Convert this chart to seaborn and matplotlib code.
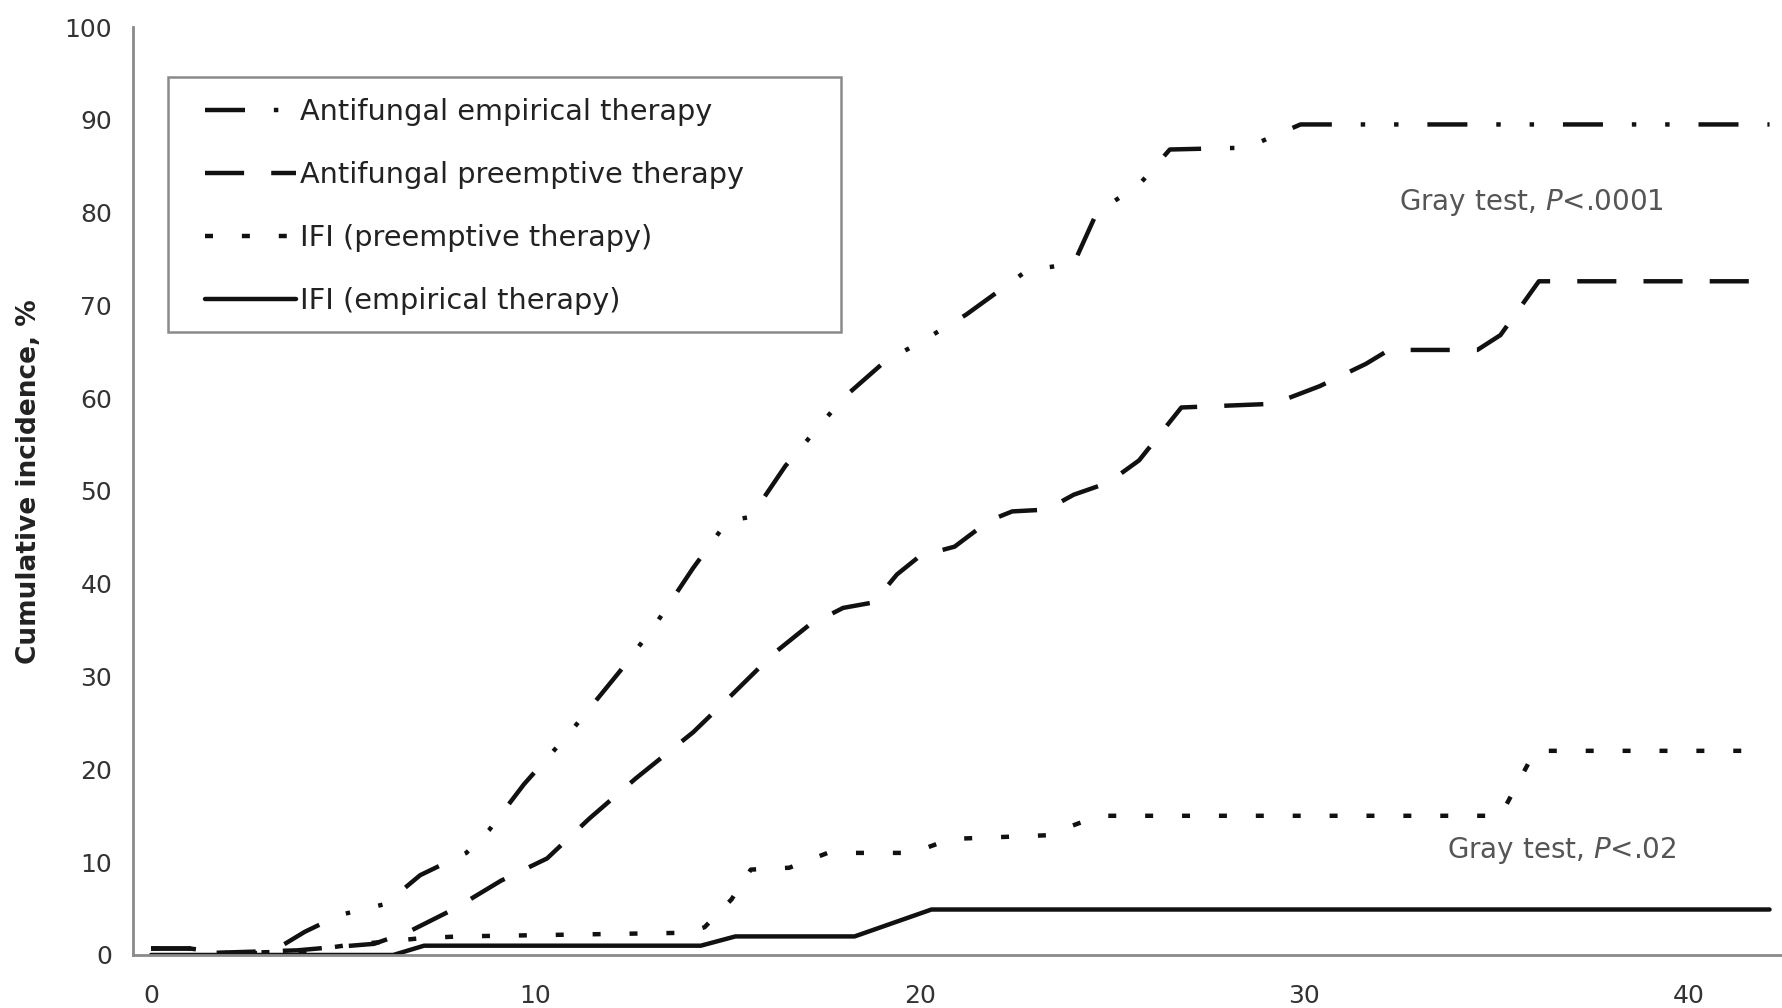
import numpy as np
import pandas as pd
import seaborn as sns
import matplotlib.pyplot as plt
from matplotlib.patches import Rectangle

# 数据
emp_x = [0, 1.0, 1.4, 2.8, 3.4, 4.0, 4.9, 6.1, 7.0, 8.2, 8.8, 9.7, 10.9, 12.2, 13.1, 14.1, 15.0, 15.6,
         16.5, 18.0, 19.1, 20.0, 21.2, 22.8, 24.0, 24.6, 25.7, 26.5, 28.5, 29.9, 42.1]
emp_y = [0.7, 0.7, 0.2, 0.2, 1.0, 2.5, 4.3, 5.5, 8.6, 11, 13.5, 18.4, 24, 30.6, 35.5, 41.7, 46.8, 47.2,
         52.7, 60, 64, 66, 69, 73.8, 74.5, 80, 83, 86.8, 87, 89.5, 89.5]

pre_x = [0, 1.0, 1.4, 3.8, 4.9, 5.8, 6.7, 7.9, 9.1, 10.3, 11.4, 12.6, 14.1, 15.0, 16.2, 17.1, 18.0, 18.8,
         19.4, 20.0, 20.9, 21.8, 22.4, 23.3, 24.0, 24.9, 25.7, 26.8, 29.2, 30.4, 31.6, 32.2, 34.5, 35.1,
         36.1, 42.1]
pre_y = [0.7, 0.7, 0.2, 0.5, 0.9, 1.2, 2.5, 5, 8, 10.4, 14.7, 19, 24, 27.6, 32.5, 35.5, 37.4, 38,
         41, 43, 44, 46.8, 47.8, 48, 49.6, 50.9, 53.3, 59, 59.4, 61.3, 63.7, 65.2, 65.2, 66.8,
         72.6, 72.6]

ifi_pre_x = [0, 1.0, 2.0, 4.0, 5.0, 7.0, 8.0, 14.0, 14.4, 15.1, 15.6, 16.6, 17.6, 19.8, 20.8, 23.3,
             24.2, 24.7, 35.1, 36.0, 42.1]
ifi_pre_y = [0.7, 0.7, 0.2, 0.4, 1.0, 1.8, 2.0, 2.4, 3.0, 6, 9.2, 9.4, 11, 11, 12.5, 12.9,
             14.3, 15, 15, 22, 22]

ifi_emp_x = [0, 6.3, 7.1, 14.3, 15.2, 18.3, 20.3, 42.1]
ifi_emp_y = [0, 0, 1, 1, 2, 2, 4.9, 4.9]

labels = ['Antifungal empirical therapy', 'Antifungal preemptive therapy',
          'IFI (preemptive therapy)', 'IFI (empirical therapy)']

# 设置图形风格
sns.set_style("white")
plt.rcParams['font.family'] = ['DejaVu Sans']
plt.rcParams['mathtext.fontset'] = 'dejavusans'

W, H = 1783, 1008
fig = plt.figure(figsize=(W / 100, H / 100), dpi=100)
ax = fig.add_axes([0.0746, 0.0526, 0.9254, 0.9206])

ink = '#111111'
lw = 3.2
series = [
    (emp_x, emp_y, (0, (9, 6.5, 1, 6.5, 1, 6.5))),
    (pre_x, pre_y, (0, (8.8, 6.1))),
    (ifi_pre_x, ifi_pre_y, (0, (1.8, 6.5))),
    (ifi_emp_x, ifi_emp_y, '-'),
]
for (xs, ys, ls), lab in zip(series, labels):
    df = pd.DataFrame({'day': xs, 'inc': ys})
    sns.lineplot(x='day', y='inc', data=df, ax=ax, color=ink, linewidth=lw,
                 linestyle=ls, estimator=None, label=lab)

ax.set_xlim(-0.47, 42.45)
ax.set_ylim(0, 100)

# 坐标轴
for side in ['top', 'right']:
    ax.spines[side].set_visible(False)
for side in ['left', 'bottom']:
    ax.spines[side].set_color('#8a8a8a')
    ax.spines[side].set_linewidth(2)

ax.set_yticks(np.arange(0, 101, 10))
ax.tick_params(axis='y', length=5, width=1.5, color='#8a8a8a', direction='out',
               labelsize=18, labelcolor='#333333', pad=10)
ax.set_xticks([0, 10, 20, 30, 40])
ax.set_xticks(np.arange(4.5, 43, 5), minor=True)
ax.tick_params(axis='x', which='major', length=0, labelsize=18, labelcolor='#333333', pad=21)
ax.tick_params(axis='x', which='minor', length=9, width=1.5, color='#8a8a8a', direction='inout')

ax.set_xlabel('')
ax.set_ylabel('Cumulative incidence, %', fontsize=19, fontweight='bold', color='#222222')
ax.yaxis.set_label_coords(-0.055, 0.51)

# 注释
ax.text(35.9, 81.1, 'Gray test, $\\mathit{P}$<.0001', fontsize=20, color='#555555',
        ha='center', va='center')
ax.text(36.7, 11.3, 'Gray test, $\\mathit{P}$<.02', fontsize=20, color='#555555',
        ha='center', va='center')

# 图例（边框单独画）
leg = ax.legend(handles=ax.get_lines()[:4], labels=labels, loc='upper left',
                bbox_to_anchor=(205 / W, 1 - 98 / H), bbox_transform=fig.transFigure,
                borderaxespad=0, borderpad=0, fontsize=20.7, handlelength=3.15,
                handletextpad=0.15, labelspacing=1.22, frameon=False)
for t in leg.get_texts():
    t.set_color('#222222')
fig.patches.append(Rectangle((168 / W, 1 - 332 / H), (841 - 168) / W, (332 - 77) / H,
                             transform=fig.transFigure, fill=False,
                             edgecolor='#8a8a8a', linewidth=1.8, zorder=5))

plt.savefig('out.png', dpi=100)
